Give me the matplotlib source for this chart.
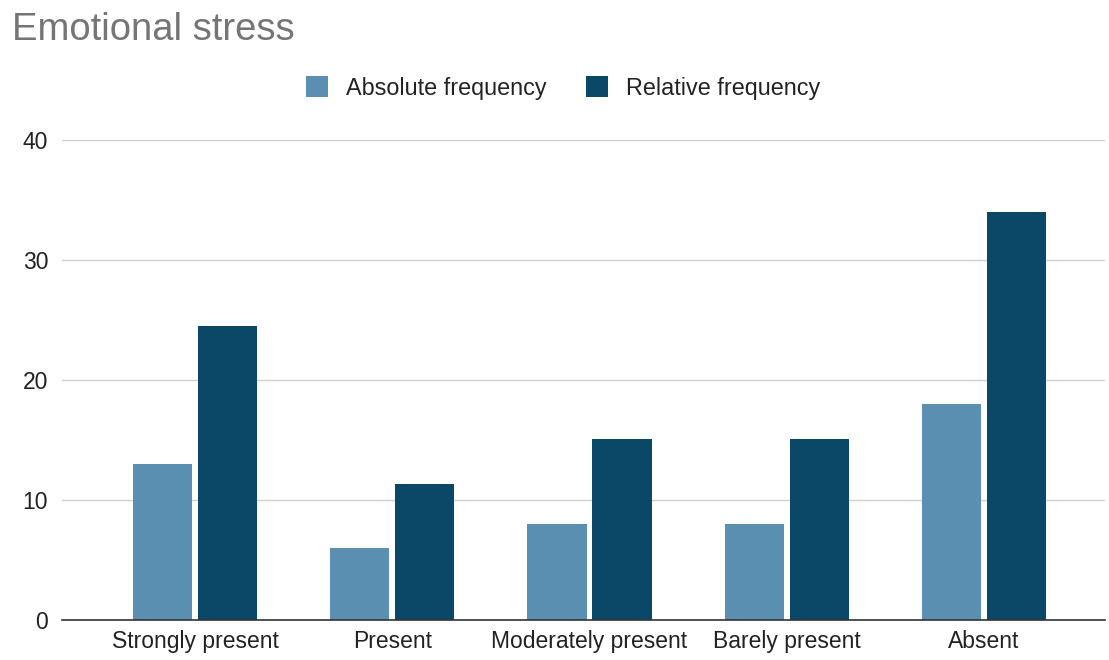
import matplotlib.pyplot as plt
import numpy as np

categories = ["Strongly present", "Present", "Moderately present", "Barely present", "Absent"]
absolute_freq = [13, 6, 8, 8, 18]
relative_freq = [24.5, 11.3, 15.1, 15.1, 34.0]
yticks = [0, 10, 20, 30, 40]

plt.rcParams['font.family'] = ['Liberation Sans', 'DejaVu Sans']

W, H = 1109, 660
fig = plt.figure(figsize=(W / 100, H / 100), dpi=100)
ax = fig.add_axes([62 / W, 1 - 620 / H, (1105 - 62) / W, (620 - 140) / H])

x = np.arange(len(categories))
bw = 0.30
off = 0.165
c_abs = "#5a8fb1"
c_rel = "#0b4868"
ax.bar(x - off, absolute_freq, bw, color=c_abs, label="Absolute frequency", zorder=3)
ax.bar(x + off, relative_freq, bw, color=c_rel, label="Relative frequency", zorder=3)

ax.set_xlim(-0.674, 4.613)
ax.set_ylim(0, 40)
ax.set_yticks(yticks)
ax.set_xticks(x)
ax.set_xticklabels(categories)
ax.tick_params(axis='both', length=0, labelsize=16.5, colors="#222222")
ax.tick_params(axis='y', pad=10)
ax.tick_params(axis='x', pad=7)
ax.grid(axis='y', color="#d0d0d0", linewidth=1, zorder=0)
for s in ["top", "right", "left"]:
    ax.spines[s].set_visible(False)
ax.spines["bottom"].set_color("#333333")
ax.spines["bottom"].set_linewidth(1.2)
ax.spines["bottom"].set_zorder(4)

fig.text(12 / W, 1 - 40 / H, "Emotional stress", fontsize=27.5, color="#757575", ha="left", va="baseline")

leg = fig.legend(loc="center", bbox_to_anchor=(563 / W, 1 - 88 / H), ncol=2, frameon=False,
                 fontsize=16.8, handlelength=0.95, handleheight=0.95, handletextpad=0.75,
                 columnspacing=1.7)
for t in leg.get_texts():
    t.set_color("#222222")

fig.savefig("out.png", dpi=100)
